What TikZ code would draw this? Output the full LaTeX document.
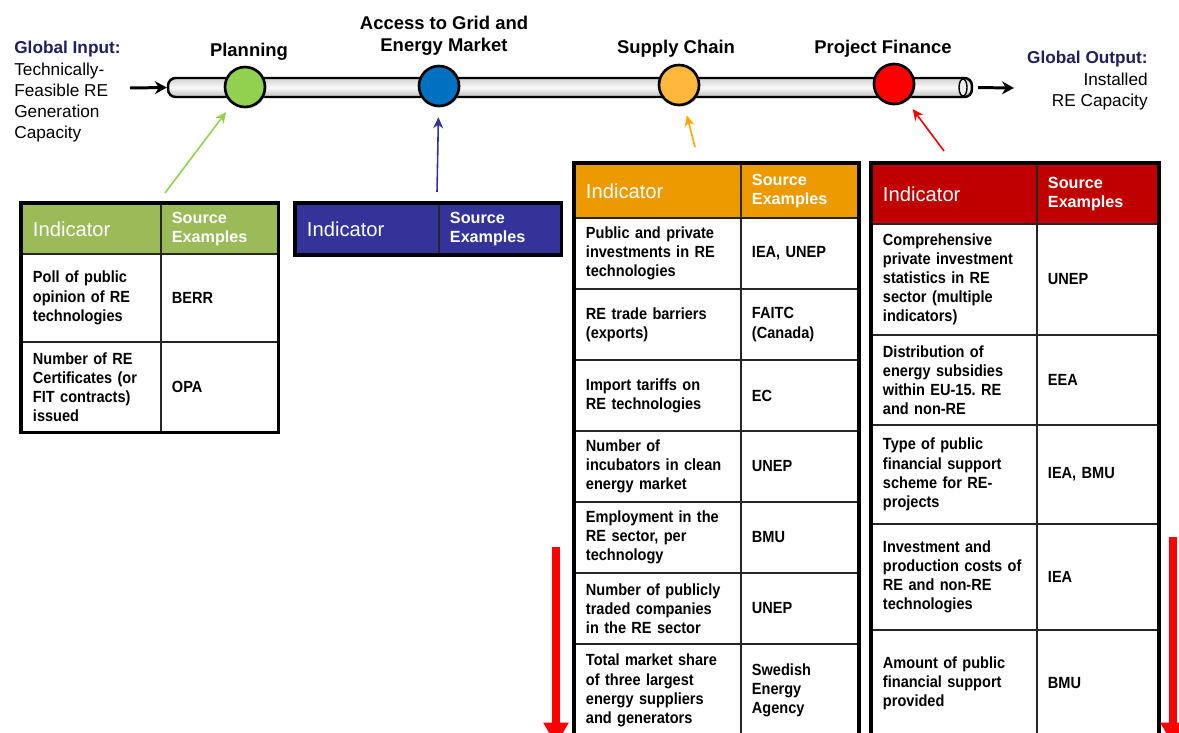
\documentclass[tikz,border=0pt]{standalone}
\usepackage{fontspec}
\setmainfont{Liberation Sans}
\newfontfamily\cellfont[FakeStretch=0.9]{Liberation Sans}
\usetikzlibrary{positioning, arrows.meta, shadows}
\frenchspacing

\definecolor{navytext}{RGB}{31,31,96}
\definecolor{hdrgreen}{RGB}{155,187,89}
\definecolor{hdrblue}{RGB}{51,51,153}
\definecolor{hdrorange}{RGB}{236,154,0}
\definecolor{hdrred}{RGB}{192,0,0}
\definecolor{stgreen}{RGB}{146,208,80}
\definecolor{stblue}{RGB}{0,112,192}
\definecolor{storange}{RGB}{255,183,60}
\definecolor{stred}{RGB}{255,0,0}
\definecolor{arrorange}{RGB}{255,165,0}

\begin{document}
\begin{tikzpicture}[
    x=0.02cm, y=-0.02cm,
    stage/.style   = {circle, draw=black, line width=1.5pt, minimum size=0.8cm, inner sep=0,
                      drop shadow={opacity=0.4, shadow xshift=0.03cm, shadow yshift=-0.03cm}},
    pipe/.style    = {draw=black, line width=1.4pt, rounded corners=0.15cm,
                      top color=gray!35, bottom color=gray!50, middle color=gray!5,
                      minimum width=16.08cm, minimum height=0.38cm, inner sep=0},
    title/.style   = {font=\bfseries\fontsize{10.5}{12.5}\selectfont, align=center, inner sep=0},
    side/.style    = {inner sep=0, font=\fontsize{9.8}{12.1}\selectfont},
    cell/.style    = {draw=black!85, line width=1.1pt, anchor=north west, fill=white,
                      inner xsep=0.22cm, inner ysep=0, align=left,
                      font=\cellfont\bfseries\fontsize{9.2}{10.9}\selectfont},
    hdr/.style     = {fill=#1, text=white},
    headind/.style = {font=\fontsize{11.5}{13}\selectfont},
    headsrc/.style = {font=\bfseries\fontsize{9.2}{11}\selectfont},
    gA/.style = {cell, minimum width=2.78cm, text width=2.34cm},
    gB/.style = {cell, minimum width=2.34cm, text width=1.90cm},
    bA/.style = {cell, minimum width=2.86cm, text width=2.42cm},
    bB/.style = {cell, minimum width=2.44cm, text width=2.00cm},
    oA/.style = {cell, minimum width=3.32cm, text width=2.88cm},
    oB/.style = {cell, minimum width=2.34cm, text width=1.90cm},
    rA/.style = {cell, minimum width=3.30cm, text width=2.86cm},
    rB/.style = {cell, minimum width=2.42cm, text width=1.98cm},
    frame/.style   = {draw=black, line width=1.8pt},
    feed/.style    = {line width=0.9pt, -{Stealth[length=2.2mm, width=2mm]}, shorten >=0.2cm},
    flow/.style    = {line width=1.7pt, -{Stealth[length=2.4mm, width=2.6mm]}},
    bigdown/.style = {draw=stred, line width=4.5pt, -{Triangle[length=4.5mm, width=4.8mm]}}
]
\useasboundingbox (0,0) rectangle (1179,733);

% pipe and stages
\node[pipe] (pipe) at (570,87.5) {};
\draw[line width=0.8pt, fill=gray!15] (963,87.5) ellipse [x radius=0.08cm, y radius=0.17cm];

\node[stage, fill=stgreen]  (plan)    at (245,87) {};
\node[stage, fill=stblue]   (grid)    at (439,86) {};
\node[stage, fill=storange] (supply)  at (679,85) {};
\node[stage, fill=stred]    (finance) at (894,84) {};

% stage titles
\node[title] (tplan)   at (249,52) {Planning};
\node[title] (tgrid)   at (444,36) {Access to Grid and\\Energy Market};
\node[title] (tsupply) at (676,49) {Supply Chain};
\node[title] (tfin)    at (883,49) {Project Finance};

% global input and output
\node[side, anchor=north west, align=left] (gin) at (14,41)
    {\textcolor{navytext}{\textbf{Global Input:}}\\Technically-\\Feasible RE\\Generation\\Capacity};
\node[side, anchor=north east, align=right] (gout) at (1148,51)
    {\textcolor{navytext}{\textbf{Global Output:}}\\Installed\\RE Capacity};

\coordinate (inflow)  at (130,88);
\coordinate (outflow) at (1014,88);
\draw[flow] (inflow) -- (pipe.west);
\draw[flow, shorten <=0.1cm] (pipe.east) -- (outflow);

% planning table
\node[gA, hdr=hdrgreen, headind, minimum height=1.0cm] (gh1) at (21,203) {Indicator};
\node[gB, hdr=hdrgreen, headsrc, minimum height=1.0cm] (gh2) at (160,203) {Source\\Examples};
\node[gA, minimum height=1.76cm] (g1a) at (21,253)  {Poll of public\\opinion of RE\\technologies};
\node[gB, minimum height=1.76cm] (g1b) at (160,253) {BERR};
\node[gA, minimum height=1.80cm] (g2a) at (21,341)  {Number of RE\\Certificates (or\\FIT contracts)\\issued};
\node[gB, minimum height=1.80cm] (g2b) at (160,341) {OPA};
\draw[frame] (gh1.north west) rectangle (g2b.south east);

% grid access table
\node[bA, hdr=hdrblue, headind, minimum height=1.0cm] (bh1) at (295,203) {Indicator};
\node[bB, hdr=hdrblue, headsrc, minimum height=1.0cm] (bh2) at (438,203) {Source\\Examples};
\draw[frame] (bh1.north west) rectangle (bh2.south east);

% supply chain table
\node[oA, hdr=hdrorange, headind, minimum height=1.08cm] (oh1) at (574,163) {Indicator};
\node[oB, hdr=hdrorange, headsrc, minimum height=1.08cm] (oh2) at (740,163) {Source\\Examples};
\node[oA, minimum height=1.42cm] (o1a) at (574,217) {Public and private\\investments in RE\\technologies};
\node[oB, minimum height=1.42cm] (o1b) at (740,217) {IEA, UNEP};
\node[oA, minimum height=1.42cm] (o2a) at (574,288) {RE trade barriers\\(exports)};
\node[oB, minimum height=1.42cm] (o2b) at (740,288) {FAITC\\(Canada)};
\node[oA, minimum height=1.42cm] (o3a) at (574,359) {Import tariffs on\\RE technologies};
\node[oB, minimum height=1.42cm] (o3b) at (740,359) {EC};
\node[oA, minimum height=1.42cm] (o4a) at (574,430) {Number of\\incubators in clean\\energy market};
\node[oB, minimum height=1.42cm] (o4b) at (740,430) {UNEP};
\node[oA, minimum height=1.42cm] (o5a) at (574,501) {Employment in the\\RE sector, per\\technology};
\node[oB, minimum height=1.42cm] (o5b) at (740,501) {BMU};
\node[oA, minimum height=1.42cm] (o6a) at (574,572) {Number of publicly\\traded companies\\in the RE sector};
\node[oB, minimum height=1.42cm] (o6b) at (740,572) {UNEP};
\node[oA, minimum height=1.86cm] (o7a) at (574,643) {Total market share\\of three largest\\energy suppliers\\and generators};
\node[oB, minimum height=1.86cm] (o7b) at (740,643) {Swedish\\Energy\\Agency};
\draw[frame] (oh1.north west) rectangle (o7b.south east);

% project finance table
\node[rA, hdr=hdrred, headind, minimum height=1.2cm] (rh1) at (871,163)  {Indicator};
\node[rB, hdr=hdrred, headsrc, minimum height=1.2cm] (rh2) at (1036,163) {Source\\Examples};
\node[rA, minimum height=2.22cm] (r1a) at (871,223)  {Comprehensive\\private investment\\statistics in RE\\sector (multiple\\indicators)};
\node[rB, minimum height=2.22cm] (r1b) at (1036,223) {UNEP};
\node[rA, minimum height=1.80cm] (r2a) at (871,334)  {Distribution of\\energy subsidies\\within EU-15. RE\\and non-RE};
\node[rB, minimum height=1.80cm] (r2b) at (1036,334) {EEA};
\node[rA, minimum height=1.98cm] (r3a) at (871,424)  {Type of public\\financial support\\scheme for RE-\\projects};
\node[rB, minimum height=1.98cm] (r3b) at (1036,424) {IEA, BMU};
\node[rA, minimum height=2.12cm] (r4a) at (871,523)  {Investment and\\production costs of\\RE and non-RE\\technologies};
\node[rB, minimum height=2.12cm] (r4b) at (1036,523) {IEA};
\node[rA, minimum height=2.14cm] (r5a) at (871,629)  {Amount of public\\financial support\\provided};
\node[rB, minimum height=2.14cm] (r5b) at (1036,629) {BMU};
\draw[frame] (rh1.north west) rectangle (r5b.south east);

% feeds from the tables up to the stages
\coordinate (gfoot) at (165,193);
\coordinate (bfoot) at (437,192);
\coordinate (ofoot) at (695,147);
\coordinate (rfoot) at (944,151);
\draw[feed, draw=stgreen]   (gfoot) -- (plan);
\draw[feed, draw=hdrblue]   (bfoot) -- (grid);
\draw[feed, draw=arrorange] (ofoot) -- (supply);
\draw[feed, draw=stred]     (rfoot) -- (finance);

% long red arrows
\coordinate (downL1) at (556,547);
\coordinate (downL2) at (556,745);
\coordinate (downR1) at (1173,537);
\coordinate (downR2) at (1173,745);
\draw[bigdown] (downL1) -- (downL2);
\draw[bigdown] (downR1) -- (downR2);

\end{tikzpicture}
\end{document}
